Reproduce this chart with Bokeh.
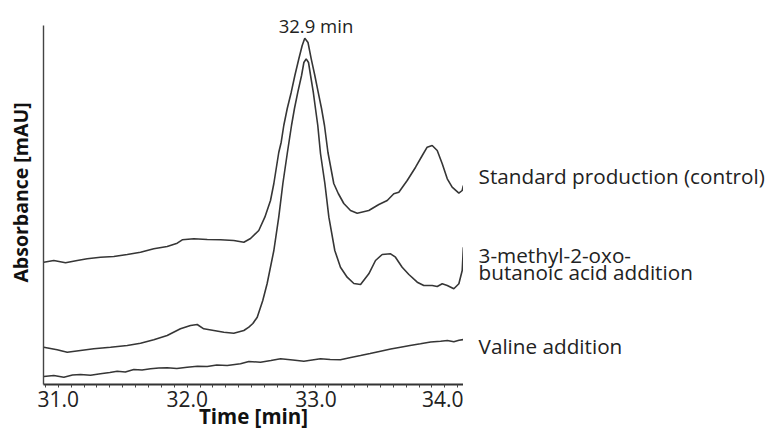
from bokeh.plotting import figure
from bokeh.layouts import row
from bokeh.models import FixedTicker, Label
from bokeh.embed import file_html
from bokeh.resources import INLINE

# ---- data (time in min, absorbance in arbitrary mAU units) ----
std_time = [30.887, 30.965, 31.056, 31.147, 31.224, 31.327, 31.431, 31.535, 31.638, 31.741,
            31.845, 31.923, 31.962, 32.052, 32.156, 32.259, 32.362, 32.440, 32.492, 32.556,
            32.603, 32.647, 32.673, 32.711, 32.730, 32.750, 32.777, 32.808, 32.836, 32.867,
            32.893, 32.913, 32.938, 32.963, 32.991, 33.017, 33.043, 33.066, 33.093, 33.138,
            33.173, 33.216, 33.268, 33.320, 33.410, 33.488, 33.553, 33.604, 33.643, 33.708,
            33.773, 33.825, 33.863, 33.902, 33.941, 33.980, 34.019, 34.057, 34.109, 34.135,
            34.144]
std_abs = [122.3, 124.0, 121.7, 124.0, 125.7, 127.3, 128.0, 130.0, 132.3, 135.7,
           138.0, 141.3, 144.7, 145.7, 145.0, 144.7, 144.0, 142.3, 146.0, 154.0,
           167.3, 184.0, 201.0, 232.0, 242.3, 259.0, 276.0, 292.3, 309.0, 325.7,
           339.0, 346.3, 342.0, 325.7, 309.0, 292.3, 276.0, 259.0, 232.0, 201.0,
           191.0, 181.0, 174.0, 171.3, 174.0, 180.0, 184.0, 190.7, 192.3, 204.0,
           217.3, 229.0, 237.3, 239.0, 234.0, 220.7, 205.7, 197.3, 191.3, 194.0,
           199.0]

keto_time = [30.887, 30.991, 31.069, 31.172, 31.275, 31.405, 31.535, 31.638, 31.741, 31.845,
             31.948, 32.026, 32.078, 32.129, 32.207, 32.285, 32.362, 32.440, 32.479, 32.510,
             32.544, 32.587, 32.621, 32.673, 32.711, 32.743, 32.777, 32.810, 32.833, 32.859,
             32.888, 32.906, 32.924, 32.942, 32.958, 32.979, 32.996, 33.014, 33.035, 33.069,
             33.100, 33.146, 33.190, 33.242, 33.294, 33.346, 33.410, 33.462, 33.514, 33.579,
             33.617, 33.669, 33.721, 33.786, 33.837, 33.902, 33.941, 33.980, 34.019, 34.070,
             34.109, 34.135, 34.144]
keto_abs = [37.3, 34.7, 32.3, 34.0, 35.7, 37.3, 39.0, 41.3, 44.7, 49.0,
            55.7, 59.0, 60.0, 55.7, 54.0, 52.3, 51.3, 54.0, 57.3, 61.0,
            67.3, 84.0, 101.0, 134.0, 167.3, 201.0, 231.0, 259.0, 276.0, 292.3,
            309.0, 322.0, 325.7, 322.0, 309.0, 292.3, 276.0, 259.0, 231.0, 201.0,
            167.3, 134.0, 117.3, 107.3, 101.0, 100.0, 110.7, 124.0, 130.0, 130.7,
            127.3, 117.3, 110.0, 102.3, 99.0, 99.0, 98.0, 100.7, 99.0, 95.7,
            100.7, 114.0, 137.3]

val_time = [30.887, 30.965, 31.043, 31.110, 31.172, 31.250, 31.327, 31.400, 31.457, 31.520,
            31.586, 31.650, 31.716, 31.780, 31.845, 31.920, 32.000, 32.080, 32.156, 32.230,
            32.311, 32.414, 32.479, 32.569, 32.650, 32.725, 32.820, 32.906, 33.035, 33.110,
            33.190, 33.270, 33.346, 33.420, 33.501, 33.580, 33.656, 33.730, 33.811, 33.890,
            33.967, 34.020, 34.070, 34.110, 34.144]
val_abs = [8.0, 9.0, 7.3, 9.5, 10.0, 9.2, 10.7, 12.0, 13.3, 12.5,
           15.0, 14.5, 15.7, 16.5, 16.7, 16.0, 17.3, 18.2, 18.0, 19.5,
           19.0, 20.7, 23.0, 22.3, 24.0, 25.7, 24.5, 23.3, 25.7, 25.0,
           24.7, 27.0, 29.0, 31.0, 33.3, 35.5, 37.3, 39.0, 40.7, 42.5,
           43.3, 44.0, 42.7, 44.2, 45.0]

x_ticks = [31.0, 32.0, 33.0, 34.0]
x_tick_labels = ["31.0", "32.0", "33.0", "34.0"]
x_minor_ticks = [30.9, 31.1, 31.2, 31.3, 31.4, 31.5, 31.6, 31.7, 31.8, 31.9,
                 32.1, 32.2, 32.3, 32.4, 32.5, 32.6, 32.7, 32.8, 32.9,
                 33.1, 33.2, 33.3, 33.4, 33.5, 33.6, 33.7, 33.8, 33.9, 34.1]
x_span = (30.885, 34.145)
label_panel_span = (34.145, 36.544)
y_span = (0, 384)
y_axis_span = (0, 359)

series_names = ["Standard production (control)",
                "3-methyl-2-oxo-",
                "butanoic acid  addition",
                "Valine addition"]
series_label_y = [209.0, 129.5, 113.0, 39.0]
series_label_x = 34.262
peak_time = 33.0
peak_label_y = 359.5
peak_text = "32.9 min"

FONT = "Open Sans"
INK = "#363636"

p = figure(width=463, height=432, x_range=x_span, y_range=y_span,
           output_backend="svg", toolbar_location=None,
           min_border_left=43, min_border_right=0, min_border_top=0, min_border_bottom=48)
p.outline_line_color = None
p.xgrid.visible = False
p.ygrid.visible = False
p.background_fill_color = "white"
p.border_fill_color = "white"

for t, a in [(std_time, std_abs), (keto_time, keto_abs), (val_time, val_abs)]:
    p.line(t, a, line_color=INK, line_width=1.6)

xa = p.xaxis[0]
xa.ticker = FixedTicker(ticks=x_ticks, minor_ticks=x_minor_ticks)
xa.major_label_overrides = dict(zip(x_ticks, x_tick_labels))
xa.axis_line_color = "#333333"
xa.axis_line_width = 1.8
xa.major_tick_line_color = "#444444"
xa.minor_tick_line_color = "#444444"
xa.major_tick_in = 0
xa.major_tick_out = 3
xa.minor_tick_in = 0
xa.minor_tick_out = 3
xa.major_label_standoff = 3
xa.major_label_text_font = FONT
xa.major_label_text_font_size = "21px"
xa.major_label_text_color = "#222222"
xa.axis_label = "Time [min]"
xa.axis_label_text_font = FONT
xa.axis_label_text_font_size = "20.5px"
xa.axis_label_text_font_style = "bold"
xa.axis_label_text_color = "#111111"
xa.axis_label_standoff = -8

ya = p.yaxis[0]
ya.bounds = y_axis_span
ya.ticker = FixedTicker(ticks=[])
ya.axis_line_color = "#444444"
ya.axis_line_width = 1.4
ya.major_tick_out = 0
ya.major_tick_in = 0
ya.minor_tick_out = 0
ya.minor_tick_in = 0
ya.major_label_standoff = 0
ya.axis_label = "Absorbance [mAU]"
ya.axis_label_text_font = FONT
ya.axis_label_text_font_size = "19.5px"
ya.axis_label_text_font_style = "bold"
ya.axis_label_text_color = "#111111"
ya.axis_label_standoff = 10

p.add_layout(Label(x=peak_time, y=peak_label_y, text=peak_text, text_font=FONT,
                   text_font_size="18.5px", text_color="#222222", text_align="center",
                   text_baseline="middle"))

q = figure(width=309, height=432, x_range=label_panel_span, y_range=p.y_range,
           x_axis_type=None, y_axis_type=None,
           output_backend="svg", toolbar_location=None,
           min_border_left=0, min_border_right=0, min_border_top=0, min_border_bottom=48)
q.outline_line_color = None
q.background_fill_color = "white"
q.border_fill_color = "white"

for name, yv in zip(series_names, series_label_y):
    q.add_layout(Label(x=series_label_x, y=yv, text=name, text_font=FONT, text_font_size="20.7px",
                       text_color="#222222", text_align="left", text_baseline="middle"))

layout = row(p, q, spacing=0)
open("out.html", "w").write(file_html(layout, INLINE))
